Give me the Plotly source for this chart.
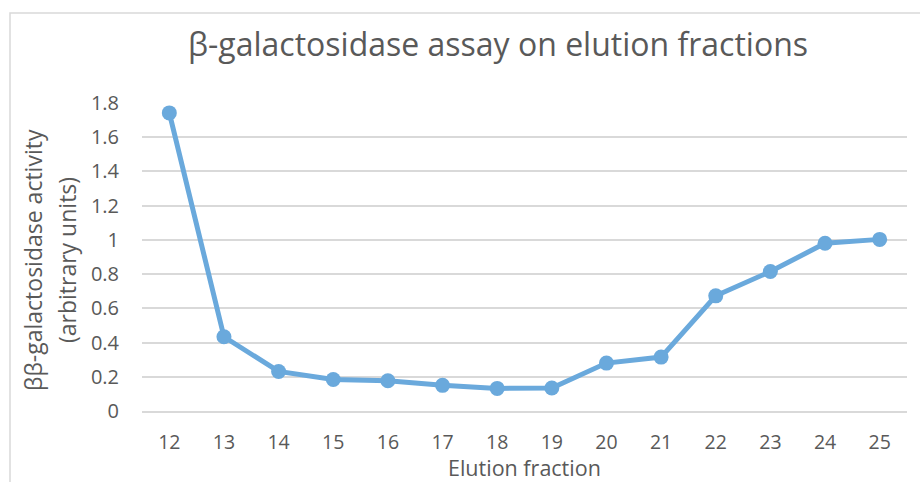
import plotly.graph_objects as go

fractions = ["12", "13", "14", "15", "16", "17", "18", "19", "20", "21", "22", "23", "24", "25"]
activity = [1.742, 0.434, 0.231, 0.184, 0.177, 0.150, 0.132, 0.134, 0.280, 0.315, 0.673, 0.815, 0.980, 1.003]
y_ticks = [0, 0.2, 0.4, 0.6, 0.8, 1.0, 1.2, 1.4, 1.6, 1.8]
y_ticklabels = ["0", "0.2", "0.4", "0.6", "0.8", "1", "1.2", "1.4", "1.6", "1.8"]
y_title_lines = ["ββ-galactosidase activity", "(arbitrary units)"]
x_title = "Elution fraction"

W, H = 920, 482
L, R, T, B = 142, 13, 103, 71
pw = W - L - R
ph = H - T - B
FONT = "Open Sans"
GRAY = "#595959"
BLUE = "#6AA9DC"

fig = go.Figure()
fig.add_trace(go.Scatter(
    x=fractions, y=activity, mode="lines+markers",
    line=dict(color=BLUE, width=5),
    marker=dict(color=BLUE, size=15),
    showlegend=False, cliponaxis=False,
))

def px_x(p):
    return (p - L) / pw

def px_y(p):
    return (H - B - p) / ph

annotations = [dict(text=t, xref="paper", yref="paper", x=px_x(cx), y=px_y(260),
                    xanchor="center", yanchor="middle", textangle=-90,
                    showarrow=False, font=dict(size=23, color=GRAY, family=FONT))
               for t, cx in zip(y_title_lines, [33, 67])]
annotations.append(dict(text=x_title, xref="paper", yref="paper", x=0.5, y=px_y(467),
                        xanchor="center", yanchor="middle", showarrow=False,
                        font=dict(size=21.5, color=GRAY, family=FONT)))

fig.update_layout(
    width=W, height=H,
    margin=dict(l=L, r=R, t=T, b=B, autoexpand=False),
    paper_bgcolor="white", plot_bgcolor="white",
    font=dict(family=FONT, color=GRAY, size=20),
    title=dict(text="β-galactosidase assay on elution fractions",
               x=498 / W, xref="container", xanchor="center",
               y=1 - 45 / H, yref="container", yanchor="middle",
               font=dict(size=32, color=GRAY, family=FONT)),
    xaxis=dict(type="category", range=[-0.5, 13.5], showgrid=False, automargin=False,
               showline=True, linecolor="#D9D9D9", linewidth=1.5,
               ticks="", ticklabelstandoff=13, tickfont=dict(size=19.5, color=GRAY)),
    yaxis=dict(range=[0, 1.8], tickvals=y_ticks, ticktext=y_ticklabels, automargin=False,
               showgrid=True, gridcolor="#D9D9D9", gridwidth=1.5,
               zeroline=False, showline=False, ticks="", ticklabelstandoff=22,
               tickfont=dict(size=20, color=GRAY)),
    annotations=annotations,
    shapes=[dict(type="rect", xref="paper", yref="paper",
                 x0=px_x(10), y0=px_y(13), x1=px_x(960), y1=px_y(520),
                 line=dict(color="#D9D9D9", width=1.5), fillcolor="rgba(0,0,0,0)", layer="below")],
)

fig.write_html("out.html", config={"displayModeBar": False},
               post_script="document.body.style.margin='0';document.body.style.padding='0';")
